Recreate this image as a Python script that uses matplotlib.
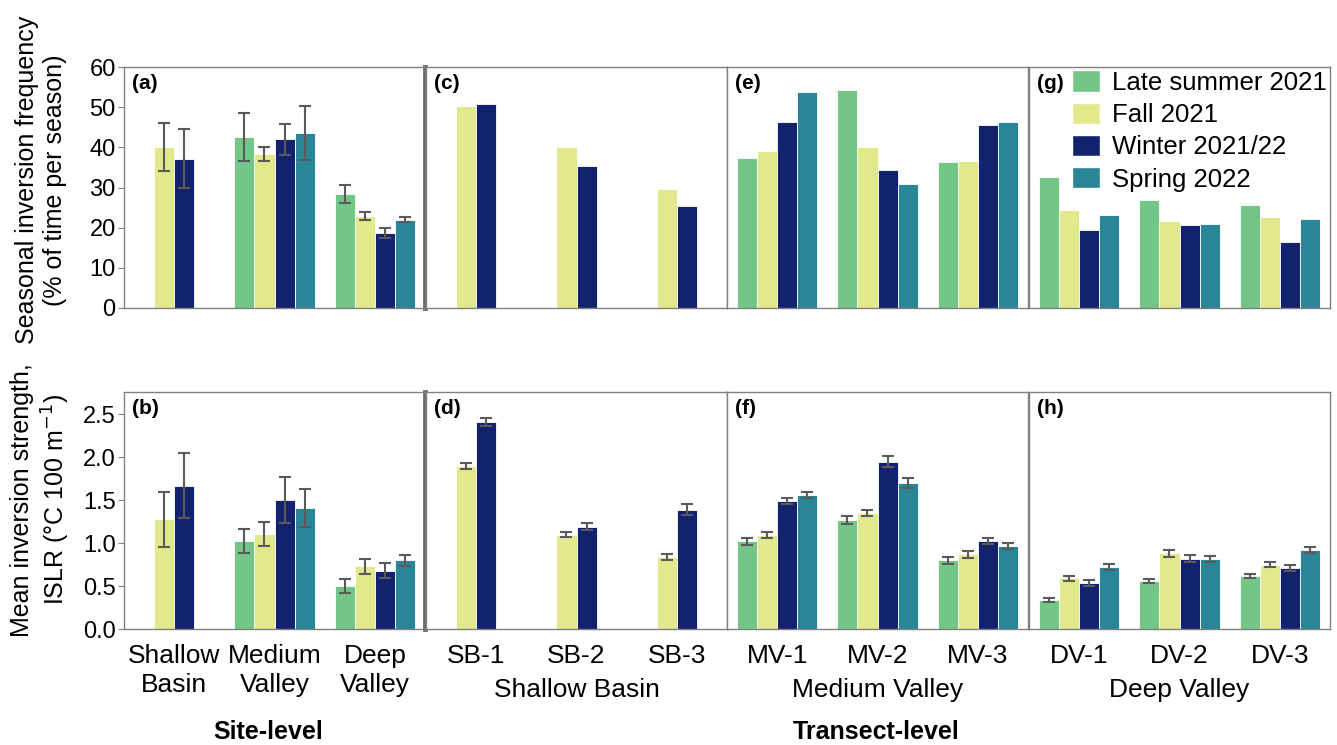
import numpy as np
import matplotlib
matplotlib.use("Agg")
import matplotlib.pyplot as plt
from matplotlib.patches import Patch

plt.rcParams['font.family'] = ['Liberation Sans', 'DejaVu Sans']

nan = np.nan
seasons = ['Late summer 2021', 'Fall 2021', 'Winter 2021/22', 'Spring 2022']
colors = ['#74c687', '#e2e98c', '#12226f', '#288696']

site_labels = ['Shallow\nBasin', 'Medium\nValley', 'Deep\nValley']
sb_labels = ['SB-1', 'SB-2', 'SB-3']
mv_labels = ['MV-1', 'MV-2', 'MV-3']
dv_labels = ['DV-1', 'DV-2', 'DV-3']

# Seasonal inversion frequency (% of time per season), site level
freq_site_late = [nan, 42.6, 28.3]
freq_site_fall = [40.0, 38.3, 22.9]
freq_site_winter = [37.2, 42.0, 18.7]
freq_site_spring = [nan, 43.5, 22.0]
freq_site_err_late = [nan, 5.9, 2.2]
freq_site_err_fall = [6.0, 1.8, 0.9]
freq_site_err_winter = [7.4, 3.9, 1.3]
freq_site_err_spring = [nan, 6.7, 0.7]

# Mean inversion strength (ISLR), site level
str_site_late = [nan, 1.03, 0.50]
str_site_fall = [1.28, 1.11, 0.73]
str_site_winter = [1.67, 1.50, 0.68]
str_site_spring = [nan, 1.41, 0.80]
str_site_err_late = [nan, 0.14, 0.085]
str_site_err_fall = [0.32, 0.14, 0.085]
str_site_err_winter = [0.38, 0.265, 0.087]
str_site_err_spring = [nan, 0.22, 0.062]

# Transect level: SB-1..3, MV-1..3, DV-1..3
freq_tr_late = [nan, nan, nan, 37.3, 54.3, 36.3, 32.7, 26.9, 25.6]
freq_tr_fall = [50.3, 40.0, 29.7, 39.1, 40.1, 36.7, 24.5, 21.6, 22.7]
freq_tr_winter = [50.9, 35.3, 25.3, 46.3, 34.3, 45.5, 19.5, 20.7, 16.4]
freq_tr_spring = [nan, nan, nan, 53.7, 30.9, 46.2, 23.1, 20.9, 22.2]

str_tr_late = [nan, nan, nan, 1.02, 1.27, 0.80, 0.34, 0.56, 0.62]
str_tr_fall = [1.90, 1.10, 0.84, 1.10, 1.35, 0.87, 0.59, 0.88, 0.75]
str_tr_winter = [2.41, 1.19, 1.39, 1.49, 1.95, 1.03, 0.53, 0.82, 0.71]
str_tr_spring = [nan, nan, nan, 1.56, 1.70, 0.97, 0.72, 0.81, 0.92]
str_tr_err_late = [nan, nan, nan, 0.039, 0.048, 0.039, 0.023, 0.028, 0.023]
str_tr_err_fall = [0.035, 0.030, 0.033, 0.035, 0.037, 0.040, 0.030, 0.037, 0.033]
str_tr_err_winter = [0.050, 0.040, 0.062, 0.040, 0.068, 0.035, 0.035, 0.037, 0.037]
str_tr_err_spring = [nan, nan, nan, 0.039, 0.055, 0.033, 0.033, 0.035, 0.033]

W, H = 1337, 745
fig = plt.figure(figsize=(W / 100, H / 100), dpi=100)

col_x = [124, 426, 727, 1029]
col_w = 301
top_y0, top_y1 = 67, 308
bot_y0, bot_y1 = 392, 629

def make_ax(ci, y0, y1):
    return fig.add_axes([col_x[ci] / W, 1 - y1 / H, col_w / W, (y1 - y0) / H])

bar_w = 0.2
spine_col = '#808080'
err_col = '#5a5a5a'

def draw(ax, vals, errs=None):
    vals = np.array(vals, dtype=float)  # shape (4, n)
    n = vals.shape[1]
    for g in range(n):
        present = [s for s in range(4) if not np.isnan(vals[s, g])]
        k = len(present)
        for j, s in enumerate(present):
            x = g + (j - (k - 1) / 2) * bar_w
            ax.bar(x, vals[s, g], width=bar_w, color=colors[s],
                   edgecolor='white', linewidth=0.6, zorder=2)
            if errs is not None:
                e = np.array(errs, dtype=float)[s, g]
                if not np.isnan(e):
                    ax.errorbar(x, vals[s, g], yerr=e, fmt='none',
                                ecolor=err_col, elinewidth=1.5, capsize=4,
                                capthick=1.5, zorder=3)
    ax.set_xlim(-0.5, n - 0.5)
    for sp in ax.spines.values():
        sp.set_color(spine_col)
        sp.set_linewidth(1.0)

ax_a = make_ax(0, top_y0, top_y1)
draw(ax_a, [freq_site_late, freq_site_fall, freq_site_winter, freq_site_spring],
     [freq_site_err_late, freq_site_err_fall, freq_site_err_winter, freq_site_err_spring])
ax_b = make_ax(0, bot_y0, bot_y1)
draw(ax_b, [str_site_late, str_site_fall, str_site_winter, str_site_spring],
     [str_site_err_late, str_site_err_fall, str_site_err_winter, str_site_err_spring])

tr_slices = [slice(0, 3), slice(3, 6), slice(6, 9)]
tr_labels = [sb_labels, mv_labels, dv_labels]
group_names = ['Shallow Basin', 'Medium Valley', 'Deep Valley']
top_axes = [ax_a]
bot_axes = [ax_b]
for i, sl in enumerate(tr_slices):
    at = make_ax(i + 1, top_y0, top_y1)
    draw(at, [freq_tr_late[sl], freq_tr_fall[sl], freq_tr_winter[sl], freq_tr_spring[sl]])
    ab = make_ax(i + 1, bot_y0, bot_y1)
    draw(ab, [str_tr_late[sl], str_tr_fall[sl], str_tr_winter[sl], str_tr_spring[sl]],
         [str_tr_err_late[sl], str_tr_err_fall[sl], str_tr_err_winter[sl], str_tr_err_spring[sl]])
    ab.set_xticks(range(3))
    ab.set_xticklabels(tr_labels[i], fontsize=19)
    ab.set_xlabel(group_names[i], fontsize=19, labelpad=7)
    top_axes.append(at)
    bot_axes.append(ab)

for ax in top_axes:
    ax.set_ylim(0, 60)
for ax in bot_axes:
    ax.set_ylim(0, 2.76)

for ax in top_axes + bot_axes:
    ax.tick_params(axis='x', length=0, pad=11)
for ax in top_axes:
    ax.set_xticks([])
for ax in top_axes[1:] + bot_axes[1:]:
    ax.set_yticks([])

ax_b.set_xticks(range(3))
ax_b.set_xticklabels(site_labels, fontsize=19, linespacing=1.25)

ax_a.set_yticks(range(0, 61, 10))
ax_b.set_yticks([0, 0.5, 1.0, 1.5, 2.0, 2.5])
ax_b.set_yticklabels(['0.0', '0.5', '1.0', '1.5', '2.0', '2.5'])
for ax in (ax_a, ax_b):
    ax.tick_params(axis='y', labelsize=17, length=4, color=spine_col, pad=2)
    ax.spines['right'].set_linewidth(3.5)
    ax.spines['right'].set_color('#6e6e6e')

fig.text(41 / W, 1 - 180 / H, 'Seasonal inversion frequency\n(% of time per season)',
         fontsize=18, rotation=90, ha='center', va='center', multialignment='center',
         linespacing=1.2)
fig.text(41 / W, 1 - 500 / H, 'Mean inversion strength,\nISLR (°C 100 m$^{-1}$)',
         fontsize=18, rotation=90, ha='center', va='center', multialignment='center',
         linespacing=1.2)

letters_top = ['(a)', '(c)', '(e)', '(g)']
letters_bot = ['(b)', '(d)', '(f)', '(h)']
for ax, l in zip(top_axes, letters_top):
    ax.text(0.025, 0.93, l, transform=ax.transAxes, fontsize=15, fontweight='bold',
            va='center', ha='left')
for ax, l in zip(bot_axes, letters_bot):
    ax.text(0.025, 0.93, l, transform=ax.transAxes, fontsize=15, fontweight='bold',
            va='center', ha='left')

handles = [Patch(facecolor=c, edgecolor='white', label=s) for c, s in zip(colors, seasons)]
top_axes[3].legend(handles=handles, loc='upper right', bbox_to_anchor=(1.04, 1.05),
                   frameon=False, fontsize=18.5, handlelength=1.1, handleheight=0.9,
                   handletextpad=0.45, labelspacing=0.3, borderaxespad=0.2)

fig.text(268 / W, 1 - 732 / H, 'Site-level', fontsize=18, fontweight='bold',
         ha='center', va='center')
fig.text(876 / W, 1 - 732 / H, 'Transect-level', fontsize=18, fontweight='bold',
         ha='center', va='center')

fig.savefig('out.png', dpi=100)
